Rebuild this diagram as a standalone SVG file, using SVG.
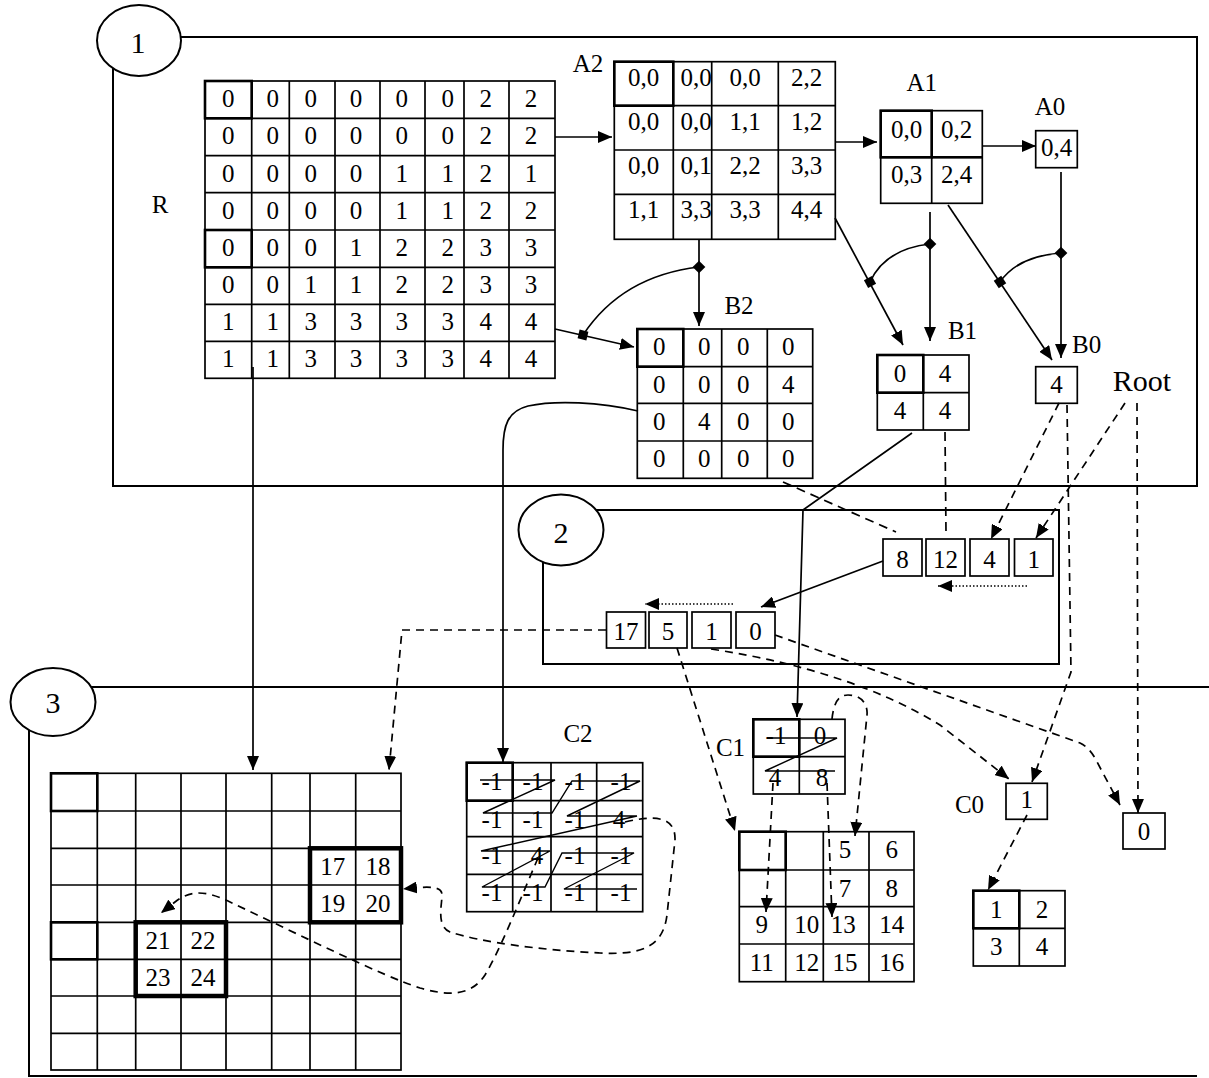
<svg xmlns="http://www.w3.org/2000/svg" width="1209" height="1078" viewBox="0 0 1209 1078">
<style>
.g{fill:#fff;stroke:#000;stroke-width:1.7}
.gl{fill:none;stroke:#000;stroke-width:1.7}
.tk{fill:none;stroke:#000;stroke-width:2.6}
.tk4{fill:none;stroke:#000;stroke-width:4.5}
.t{font-family:"Liberation Serif","Times New Roman",serif;font-size:25px;text-anchor:middle;fill:#000}
.lb{font-family:"Liberation Serif","Times New Roman",serif;font-size:25px;text-anchor:middle;fill:#000}
.big{font-family:"Liberation Serif","Times New Roman",serif;font-size:30px;text-anchor:middle;fill:#000}
.fr{fill:none;stroke:#000;stroke-width:2}
.el{fill:#fff;stroke:#000;stroke-width:2}
.c{fill:none;stroke:#000;stroke-width:1.7}
.ca{fill:none;stroke:#000;stroke-width:1.7;marker-end:url(#ah)}
.d{fill:none;stroke:#000;stroke-width:1.7;stroke-dasharray:9,6}
.da{fill:none;stroke:#000;stroke-width:1.7;stroke-dasharray:8,6;marker-end:url(#ah)}
.dt{fill:none;stroke:#000;stroke-width:1.5;stroke-dasharray:1.5,2;marker-end:url(#ah)}
.st{fill:none;stroke:#000;stroke-width:1.4}
.mk{fill:#000}
</style>
<defs>
<marker id="ah" viewBox="0 0 14 12" markerWidth="14" markerHeight="12" refX="14" refY="6" orient="auto" markerUnits="userSpaceOnUse">
<path d="M0,0 L14,6 L0,12 z" fill="#000"/>
</marker>
</defs>
<rect width="1209" height="1078" fill="#fff"/>

<g id="frame1">
<path class="fr" d="M181,37 H1197 V486 H113 V68"/>
<ellipse class="el" cx="139" cy="40.5" rx="42" ry="35.5"/>
<text class="big" x="138" y="53">1</text>
</g>
<g id="frame2">
<path class="fr" d="M596,510 H1059 V664 H543 V562"/>
<ellipse class="el" cx="561" cy="530" rx="42.5" ry="35.5"/>
<text class="big" x="561" y="543">2</text>
</g>
<g id="frame3">
<path class="fr" d="M91,687 H1209"/>
<path class="fr" d="M29,730 V1076 H1197"/>
<ellipse class="el" cx="53" cy="702" rx="42.5" ry="34"/>
<text class="big" x="53" y="713">3</text>
</g>

<g id="R">
<text class="lb" x="160" y="213">R</text>
<rect class="g" x="205" y="81" width="350" height="297.3"/>
<path class="gl" d="M251.7,81V378.3M289.3,81V378.3M335,81V378.3M380,81V378.3M425,81V378.3M464,81V378.3M509,81V378.3M205,118.3H555M205,155.7H555M205,192.7H555M205,230H555M205,267.3H555M205,304.3H555M205,341.3H555"/>
<rect class="tk" x="205" y="81" width="46.7" height="37.3"/>
<rect class="tk" x="205" y="230" width="46.7" height="37.3"/>
<g class="t">
<text x="228.3" y="107">0</text><text x="272.7" y="107">0</text><text x="310.7" y="107">0</text><text x="356" y="107">0</text><text x="401.7" y="107">0</text><text x="447.7" y="107">0</text><text x="485.7" y="107">2</text><text x="531" y="107">2</text>
<text x="228.3" y="144.3">0</text><text x="272.7" y="144.3">0</text><text x="310.7" y="144.3">0</text><text x="356" y="144.3">0</text><text x="401.7" y="144.3">0</text><text x="447.7" y="144.3">0</text><text x="485.7" y="144.3">2</text><text x="531" y="144.3">2</text>
<text x="228.3" y="181.7">0</text><text x="272.7" y="181.7">0</text><text x="310.7" y="181.7">0</text><text x="356" y="181.7">0</text><text x="401.7" y="181.7">1</text><text x="447.7" y="181.7">1</text><text x="485.7" y="181.7">2</text><text x="531" y="181.7">1</text>
<text x="228.3" y="218.7">0</text><text x="272.7" y="218.7">0</text><text x="310.7" y="218.7">0</text><text x="356" y="218.7">0</text><text x="401.7" y="218.7">1</text><text x="447.7" y="218.7">1</text><text x="485.7" y="218.7">2</text><text x="531" y="218.7">2</text>
<text x="228.3" y="256">0</text><text x="272.7" y="256">0</text><text x="310.7" y="256">0</text><text x="356" y="256">1</text><text x="401.7" y="256">2</text><text x="447.7" y="256">2</text><text x="485.7" y="256">3</text><text x="531" y="256">3</text>
<text x="228.3" y="293.3">0</text><text x="272.7" y="293.3">0</text><text x="310.7" y="293.3">1</text><text x="356" y="293.3">1</text><text x="401.7" y="293.3">2</text><text x="447.7" y="293.3">2</text><text x="485.7" y="293.3">3</text><text x="531" y="293.3">3</text>
<text x="228.3" y="330.3">1</text><text x="272.7" y="330.3">1</text><text x="310.7" y="330.3">3</text><text x="356" y="330.3">3</text><text x="401.7" y="330.3">3</text><text x="447.7" y="330.3">3</text><text x="485.7" y="330.3">4</text><text x="531" y="330.3">4</text>
<text x="228.3" y="367.3">1</text><text x="272.7" y="367.3">1</text><text x="310.7" y="367.3">3</text><text x="356" y="367.3">3</text><text x="401.7" y="367.3">3</text><text x="447.7" y="367.3">3</text><text x="485.7" y="367.3">4</text><text x="531" y="367.3">4</text>
</g>
</g>

<g id="A2">
<text class="lb" x="588" y="72">A2</text>
<rect class="g" x="614.3" y="61.7" width="221" height="177.6"/>
<path class="gl" d="M673.3,61.7V239.3M711.7,61.7V239.3M778.3,61.7V239.3M614.3,105.7H835.3M614.3,150H835.3M614.3,194.3H835.3"/>
<rect class="tk" x="614.3" y="61.7" width="59" height="44"/>
<g class="t">
<text x="643.5" y="85.5">0,0</text><text x="696" y="85.5">0,0</text><text x="745" y="85.5">0,0</text><text x="806.7" y="85.5">2,2</text>
<text x="643.5" y="130">0,0</text><text x="696" y="130">0,0</text><text x="745" y="130">1,1</text><text x="806.7" y="130">1,2</text>
<text x="643.5" y="173.5">0,0</text><text x="696" y="173.5">0,1</text><text x="745" y="173.5">2,2</text><text x="806.7" y="173.5">3,3</text>
<text x="643.5" y="218.3">1,1</text><text x="696" y="218.3">3,3</text><text x="745" y="218.3">3,3</text><text x="806.7" y="218.3">4,4</text>
</g>
</g>

<g id="A1">
<text class="lb" x="921.7" y="90.7">A1</text>
<rect class="g" x="880.7" y="110.7" width="101.6" height="92.6"/>
<path class="gl" d="M931.7,110.7V203.3M880.7,157.3H982.3"/>
<rect class="tk" x="880.7" y="110.7" width="51" height="46.6"/>
<path class="tk" d="M931.7,157.3H982.3"/>
<g class="t">
<text x="906.5" y="137.5">0,0</text><text x="956.5" y="137.5">0,2</text>
<text x="906.5" y="183">0,3</text><text x="956.5" y="183">2,4</text>
</g>
</g>

<g id="A0">
<text class="lb" x="1050" y="115">A0</text>
<rect class="g" x="1035.7" y="130.7" width="41.6" height="37"/>
<text class="t" x="1056.5" y="156">0,4</text>
</g>

<g id="B2">
<text class="lb" x="739" y="314">B2</text>
<rect class="g" x="637.3" y="329" width="175.4" height="149.3"/>
<path class="gl" d="M683.3,329V478.3M721.7,329V478.3M767.3,329V478.3M637.3,366.7H812.7M637.3,403.3H812.7M637.3,441H812.7"/>
<rect class="tk" x="637.3" y="329" width="46" height="37.7"/>
<g class="t">
<text x="659.3" y="355">0</text><text x="704.3" y="355">0</text><text x="743.3" y="355">0</text><text x="788.3" y="355">0</text>
<text x="659.3" y="392.7">0</text><text x="704.3" y="392.7">0</text><text x="743.3" y="392.7">0</text><text x="788.3" y="392.7">4</text>
<text x="659.3" y="429.5">0</text><text x="704.3" y="429.5">4</text><text x="743.3" y="429.5">0</text><text x="788.3" y="429.5">0</text>
<text x="659.3" y="467">0</text><text x="704.3" y="467">0</text><text x="743.3" y="467">0</text><text x="788.3" y="467">0</text>
</g>
</g>

<g id="B1">
<text class="lb" x="962.5" y="339">B1</text>
<rect class="g" x="877.3" y="355" width="91.7" height="75"/>
<path class="gl" d="M923.3,355V430M877.3,392.7H969"/>
<rect class="tk" x="877.3" y="355" width="46" height="37.7"/>
<g class="t">
<text x="900" y="381.5">0</text><text x="945" y="381.5">4</text>
<text x="900" y="419">4</text><text x="945" y="419">4</text>
</g>
</g>

<g id="B0">
<text class="lb" x="1086.7" y="353">B0</text>
<rect class="g" x="1035.7" y="366.7" width="41.6" height="36.6"/>
<text class="t" x="1056.5" y="393">4</text>
</g>

<g id="Root">
<text class="big" x="1142" y="390.7">Root</text>
</g>

<g id="arr1">
<rect class="g" x="883" y="539" width="39" height="37"/><text class="t" x="902.5" y="568">8</text>
<rect class="g" x="926" y="539" width="39" height="37"/><text class="t" x="945.5" y="568">12</text>
<rect class="g" x="970" y="539" width="39" height="37"/><text class="t" x="989.5" y="568">4</text>
<rect class="g" x="1014.5" y="539" width="38.5" height="37"/><text class="t" x="1033.7" y="568">1</text>
</g>
<g id="arr2">
<rect class="g" x="606.5" y="612" width="39" height="36"/><text class="t" x="626" y="640">17</text>
<rect class="g" x="649" y="612" width="38" height="36"/><text class="t" x="668" y="640">5</text>
<rect class="g" x="692" y="612" width="39" height="36"/><text class="t" x="711.5" y="640">1</text>
<rect class="g" x="736" y="612" width="39" height="36"/><text class="t" x="755.5" y="640">0</text>
</g>

<g id="G3">
<rect class="g" x="51" y="773.3" width="350" height="296.7"/>
<path class="gl" d="M97.3,773.3V1070M135.7,773.3V1070M181,773.3V1070M226,773.3V1070M271.7,773.3V1070M310,773.3V1070M355.7,773.3V1070M51,811H401M51,848.3H401M51,885H401M51,922.3H401M51,959.3H401M51,996H401M51,1033.3H401"/>
<rect class="tk" x="51" y="773.3" width="46.3" height="37.7"/>
<rect class="tk" x="51" y="922.3" width="46.3" height="37"/>
<rect class="tk4" x="310" y="848.3" width="91" height="74"/>
<rect class="tk4" x="135.7" y="922.3" width="90.3" height="73.7"/>
<g class="t">
<text x="332.7" y="875">17</text><text x="378" y="875">18</text>
<text x="332.7" y="911.5">19</text><text x="378" y="911.5">20</text>
<text x="158" y="949">21</text><text x="203" y="949">22</text>
<text x="158" y="985.5">23</text><text x="203" y="985.5">24</text>
</g>
</g>

<g id="C2">
<text class="lb" x="578" y="741.7">C2</text>
<rect class="g" x="466.7" y="762.7" width="176" height="149"/>
<path class="gl" d="M512.7,762.7V911.7M551,762.7V911.7M596.7,762.7V911.7M466.7,800.7H642.7M466.7,836.7H642.7M466.7,874.3H642.7"/>
<rect class="tk" x="466.7" y="762.7" width="46" height="38"/>
<g class="t">
<text x="492" y="789.7">-1</text><text x="533" y="789.7">-1</text><text x="575" y="789.7">-1</text><text x="621" y="789.7">-1</text>
<text x="492" y="827.7">-1</text><text x="533" y="827.7">-1</text><text x="575" y="827.7">-1</text><text x="619" y="827.7">4</text>
<text x="492" y="863.7">-1</text><text x="537" y="863.7">4</text><text x="575" y="863.7">-1</text><text x="621" y="863.7">-1</text>
<text x="492" y="901.3">-1</text><text x="533" y="901.3">-1</text><text x="575" y="901.3">-1</text><text x="621" y="901.3">-1</text>
</g>
<path class="st" d="M480,780 L555,780 L483,813 L552,813 L572,781 L640,781 L567,816 L637,816 L481,851 L550,851 L482,887 L545,887 L562,853 L634,853 L564,889 L637,889"/>
</g>

<g id="C1">
<text class="lb" x="730.5" y="756">C1</text>
<rect class="g" x="753.3" y="719.3" width="91.7" height="74.7"/>
<path class="gl" d="M799.3,719.3V794M753.3,756.7H845"/>
<rect class="tk" x="753.3" y="719.3" width="46" height="37.4"/>
<g class="t">
<text x="776" y="744">-1</text><text x="820" y="744">0</text>
<text x="775" y="786">4</text><text x="822" y="786">8</text>
</g>
<path class="st" d="M767,738 L837,738 L765,771 L835,771"/>
</g>

<g id="G4">
<rect class="g" x="739.3" y="831.7" width="174.7" height="150"/>
<path class="gl" d="M785.7,831.7V981.7M823.3,831.7V981.7M869,831.7V981.7M739.3,870H914M739.3,906.7H914M739.3,944H914"/>
<rect class="tk" x="739.3" y="831.7" width="46.4" height="38.3"/>
<g class="t">
<text x="845" y="858">5</text><text x="891.7" y="858">6</text>
<text x="845" y="896.5">7</text><text x="891.7" y="896.5">8</text>
<text x="761.7" y="933">9</text><text x="806.7" y="933">10</text><text x="843.3" y="933">13</text><text x="891.7" y="933">14</text>
<text x="761.7" y="970.5">11</text><text x="806.7" y="970.5">12</text><text x="845" y="970.5">15</text><text x="891.7" y="970.5">16</text>
</g>
</g>

<g id="C0">
<text class="lb" x="969.5" y="812.7">C0</text>
<rect class="g" x="1006" y="783.3" width="41.3" height="36"/>
<text class="t" x="1026.7" y="808">1</text>
</g>
<g id="Z0">
<rect class="g" x="1123" y="813" width="42" height="36"/>
<text class="t" x="1144" y="840">0</text>
</g>
<g id="G2">
<rect class="g" x="973.3" y="890.7" width="91.7" height="75.3"/>
<path class="gl" d="M1019.3,890.7V966M973.3,928.3H1065"/>
<rect class="tk" x="973.3" y="890.7" width="46" height="37.6"/>
<g class="t">
<text x="996.3" y="917.5">1</text><text x="1042" y="917.5">2</text>
<text x="996.3" y="955">3</text><text x="1042" y="955">4</text>
</g>
</g>

<g id="connectors">
<path class="ca" d="M555,137 L612,137"/>
<path class="ca" d="M835,142 L877,142"/>
<path class="ca" d="M982,146 L1036,146"/>
<path class="ca" d="M699,239 L699,326"/>
<path class="ca" d="M555,329 L634,347"/>
<path class="c" d="M583,335 Q622,276 699,267"/>
<path class="ca" d="M835,218 L903,345"/>
<path class="c" d="M870,282 Q885,249 930,244"/>
<path class="ca" d="M930,212 L930,341"/>
<path class="ca" d="M948,205 L1052,360"/>
<path class="c" d="M1000,282 Q1018,256 1061,253"/>
<path class="ca" d="M1061,172 L1061,358"/>
<rect class="mk" x="578.5" y="330.5" width="9" height="9" transform="rotate(13 583 335)"/>
<rect class="mk" x="694.5" y="262.5" width="9" height="9" transform="rotate(45 699 267)"/>
<rect class="mk" x="865.5" y="277.5" width="9" height="9" transform="rotate(62 870 282)"/>
<rect class="mk" x="925.5" y="239.5" width="9" height="9" transform="rotate(45 930 244)"/>
<rect class="mk" x="995.5" y="277.5" width="9" height="9" transform="rotate(56 1000 282)"/>
<rect class="mk" x="1056.5" y="248.5" width="9" height="9" transform="rotate(45 1061 253)"/>
<path class="ca" d="M638,411 C600,402 555,400 528,406 C508,411 503,425 503,450 L503,762"/>
<path class="ca" d="M253,367 L253,770"/>
<path class="ca" d="M912,433 L803,510 L797,717"/>
<path class="d" d="M945,432 L946,532"/>
<path class="d" d="M783,482 L896,532"/>
<path class="da" d="M1059,403 L991,539"/>
<path class="da" d="M1125,403 L1036,538"/>
<path class="da" d="M1067,405 L1071,672 L1032,782"/>
<path class="da" d="M1137,403 L1138,813"/>
<path class="ca" d="M883,561 L761,607"/>
<path class="dt" d="M1027,586 L938,586"/>
<path class="dt" d="M733,604 L645,604"/>
<path class="da" d="M606,630 L402,630 L389,770"/>
<path class="da" d="M677,648 L735,831"/>
<path class="da" d="M711,649 Q850,670 940,725 L1009,779"/>
<path class="da" d="M775,635 L1080,743 Q1090,748 1096,760 L1120,805"/>
<path class="da" d="M832,719 C834,700 840,695 848,695 C862,695 868,705 867,715 L855,836"/>
<path class="da" d="M773,783 L766,912"/>
<path class="da" d="M827,783 L832,917"/>
<path class="da" d="M1027,815 L988,890"/>
<path class="da" d="M625,822 C650,816 676,814 675,840 L667,915 C663,948 640,955 600,953 C540,950 480,942 450,932 C436,926 442,905 442,895 C442,886 430,886 403,889"/>
<path class="da" d="M538,858 C520,900 500,950 485,975 C470,998 445,995 420,988 C380,975 300,935 230,902 C205,890 190,890 175,902 L161,913"/>
</g>
</svg>
